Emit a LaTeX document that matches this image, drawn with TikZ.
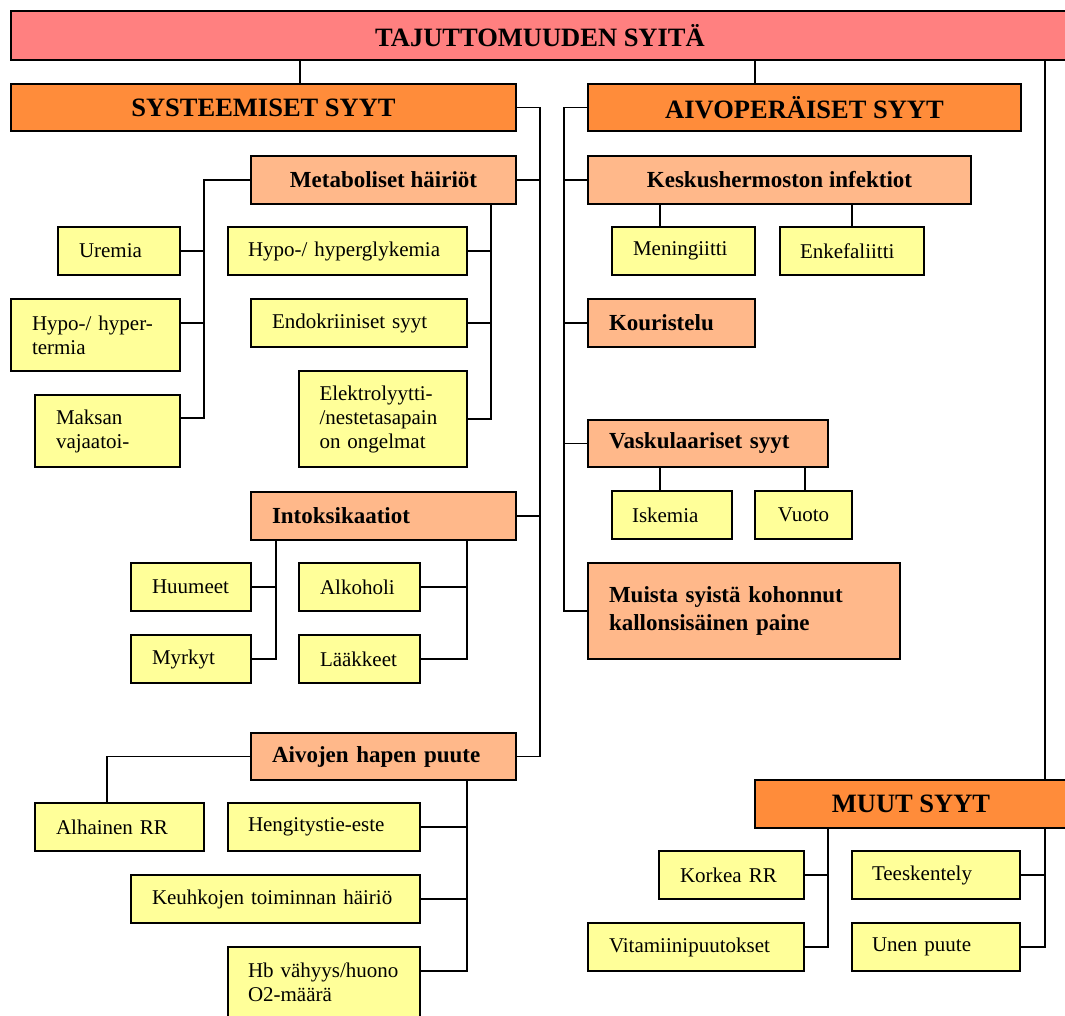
\documentclass[tikz,border=0pt]{standalone}
\usepackage{fontspec}
\setmainfont{Liberation Serif}
\definecolor{pinkc}{RGB}{255,128,128}
\definecolor{orng}{RGB}{255,140,58}
\definecolor{lorng}{RGB}{255,184,138}
\definecolor{yel}{RGB}{255,255,153}
\tikzset{
 base/.style={draw=black, line width=1.5pt, inner sep=0pt, outer sep=0pt},
 bx/.style n args={4}{at={(#1,#2)}, anchor=north west, minimum width=#3pt, minimum height=#4pt},
 topbox/.style={base, fill=pinkc, font=\fontsize{26.5}{30}\selectfont\bfseries, align=center},
 mainbox/.style={base, fill=orng, font=\fontsize{26.5}{30}\selectfont\bfseries, align=center},
 subbox/.style={base, fill=lorng, font=\fontsize{23}{28}\selectfont\bfseries, align=left},
 subc/.style={base, fill=lorng, font=\fontsize{23}{28}\selectfont\bfseries, align=center},
 leaf/.style={base, fill=yel, font=\fontsize{21}{24}\selectfont, align=left},
 cn/.style={line width=1.5pt, draw=black},
}
\begin{document}
\begin{tikzpicture}[x=1pt,y=-1pt]
\useasboundingbox (0,0) rectangle (1065,1016);
% helper coordinates for connector columns/rows
\coordinate (xA) at (300,0);
\coordinate (xB) at (755,0);
\coordinate (xC) at (1045,0);
\coordinate (xS) at (540,0);
\coordinate (xL) at (564,0);
\coordinate (xM) at (204,0);
\coordinate (xN) at (491,0);
\coordinate (xP) at (276,0);
\coordinate (xQ) at (467,0);
\coordinate (xR) at (107,0);
\coordinate (xK1) at (660,0);
\coordinate (xK2) at (852,0);
\coordinate (xV) at (805,0);
\coordinate (xW) at (828,0);
\coordinate (yH) at (0,418);
\coordinate (yT) at (0,323);
\coordinate (yB) at (0,971);

% top
\node[topbox, bx={11}{11}{1058}{49}] (title) {TAJUTTOMUUDEN SYITÄ};
\node[mainbox, bx={11}{84}{505}{47}] (sys) {SYSTEEMISET SYYT};
\node[mainbox, bx={588}{84}{433}{47}] (aivo) {AIVOPERÄISET SYYT};

% systemic
\node[subc, bx={251}{156}{265}{48}] (meta) {Metaboliset häiriöt};
\node[leaf, bx={58}{227}{122}{48}, text width=80pt] (urem) {Uremia};
\node[leaf, bx={228}{227}{239}{48}, text width=199pt] (hglyk) {\mbox{Hypo-/ hyperglykemia}};
\node[leaf, bx={11}{299}{169}{72}, text width=127pt] (hterm) {\mbox{Hypo-/ hyper-}\\termia};
\node[leaf, bx={251}{299}{216}{48}, text width=174pt] (endo) {\mbox{Endokriiniset syyt}};
\node[leaf, bx={35}{395}{145}{72}, text width=103pt] (maks) {Maksan\\vajaatoi-};
\node[leaf, bx={299}{371}{168}{96}, text width=127pt] (elek) {\mbox{Elektrolyytti-}\\\mbox{/nestetasapain}\\\mbox{on ongelmat}};

\node[subbox, bx={251}{492}{265}{48}, text width=223pt] (intok) {Intoksikaatiot};
\node[leaf, bx={131}{563}{120}{48}, text width=78pt] (huum) {Huumeet};
\node[leaf, bx={131}{635}{120}{48}, text width=78pt] (myrk) {Myrkyt};
\node[leaf, bx={299}{563}{121}{48}, text width=79pt] (alko) {Alkoholi};
\node[leaf, bx={299}{635}{121}{48}, text width=79pt] (laak) {Lääkkeet};

\node[subbox, bx={251}{733}{265}{47}, text width=223pt] (aivoj) {\mbox{Aivojen hapen puute}};
\node[leaf, bx={35}{803}{169}{48}, text width=127pt] (alh) {\mbox{Alhainen RR}};
\node[leaf, bx={228}{803}{192}{48}, text width=152pt] (heng) {Hengitystie-este};
\node[leaf, bx={131}{875}{289}{48}, text width=247pt] (keuh) {\mbox{Keuhkojen toiminnan häiriö}};
\node[leaf, bx={228}{947}{192}{71}, text width=152pt] (hb) {\mbox{Hb vähyys/huono}\\O2-määrä};

% brain
\node[subc, bx={588}{156}{383}{48}] (kesk) {Keskushermoston infektiot};
\node[leaf, bx={612}{227}{143}{48}, text width=101pt] (menin) {Meningiitti};
\node[leaf, bx={780}{227}{144}{48}, text width=104pt] (enkef) {Enkefaliitti};
\node[subbox, bx={588}{299}{167}{48}, text width=125pt] (kour) {Kouristelu};
\node[subbox, bx={588}{420}{240}{47}, text width=198pt] (vask) {\mbox{Vaskulaariset syyt}};
\node[leaf, bx={612}{491}{120}{48}, text width=80pt] (isk) {Iskemia};
\node[leaf, bx={755}{491}{97}{48}] (vuot) {Vuoto};
\node[subbox, bx={588}{563}{312}{96}, text width=270pt] (muis) {\mbox{Muista syistä kohonnut}\\\mbox{kallonsisäinen paine}};

% other
\node[mainbox, bx={755}{780}{312}{48}] (muut) {MUUT SYYT};
\node[leaf, bx={659}{851}{145}{48}, text width=103pt] (kork) {\mbox{Korkea RR}};
\node[leaf, bx={588}{923}{216}{48}, text width=174pt] (vita) {Vitamiinipuutokset};
\node[leaf, bx={852}{851}{168}{48}, text width=128pt] (tees) {Teeskentely};
\node[leaf, bx={852}{923}{168}{48}, text width=128pt] (unen) {\mbox{Unen puute}};

% connectors from title
\draw[cn] (title.south -| xA) -- (sys.north -| xA);
\draw[cn] (title.south -| xB) -- (aivo.north -| xB);
\draw[cn] (title.south -| xC) -- (muut.north -| xC);

% systemic spine
\draw[cn] (sys.east) -- (sys.east -| xS) -- (aivoj.east -| xS) -- (aivoj.east);
\draw[cn] (meta.east) -- (meta.east -| xS);
\draw[cn] (intok.east) -- (intok.east -| xS);

% brain spine
\draw[cn] (aivo.west) -- (aivo.west -| xL) -- (muis.west -| xL) -- (muis.west);
\draw[cn] (kesk.west) -- (kesk.west -| xL);
\draw[cn] (kour.west) -- (kour.west -| xL);
\draw[cn] (vask.west) -- (vask.west -| xL);

% metabolic
\draw[cn] (meta.west) -- (meta.west -| xM) -- (xM |- yH) -- (maks.east |- yH);
\draw[cn] (urem.east) -- (urem.east -| xM);
\draw[cn] (hterm.east |- yT) -- (xM |- yT);
\draw[cn] (meta.south -| xN) -- (elek.east -| xN) -- (elek.east);
\draw[cn] (hglyk.east) -- (hglyk.east -| xN);
\draw[cn] (endo.east) -- (endo.east -| xN);

% intoxications
\draw[cn] (intok.south -| xP) -- (myrk.east -| xP) -- (myrk.east);
\draw[cn] (huum.east) -- (huum.east -| xP);
\draw[cn] (intok.south -| xQ) -- (laak.east -| xQ) -- (laak.east);
\draw[cn] (alko.east) -- (alko.east -| xQ);

% hypoxia
\draw[cn] (aivoj.west) -- (aivoj.west -| xR) -- (alh.north -| xR);
\draw[cn] (aivoj.south -| xQ) -- (xQ |- yB) -- (hb.east |- yB);
\draw[cn] (heng.east) -- (heng.east -| xQ);
\draw[cn] (keuh.east) -- (keuh.east -| xQ);

% brain children
\draw[cn] (kesk.south -| xK1) -- (menin.north -| xK1);
\draw[cn] (kesk.south -| xK2) -- (enkef.north -| xK2);
\draw[cn] (vask.south -| xK1) -- (isk.north -| xK1);
\draw[cn] (vask.south -| xV) -- (vuot.north -| xV);

% other children
\draw[cn] (muut.south -| xW) -- (vita.east -| xW) -- (vita.east);
\draw[cn] (kork.east) -- (kork.east -| xW);
\draw[cn] (muut.south -| xC) -- (unen.east -| xC) -- (unen.east);
\draw[cn] (tees.east) -- (tees.east -| xC);
\end{tikzpicture}
\end{document}
